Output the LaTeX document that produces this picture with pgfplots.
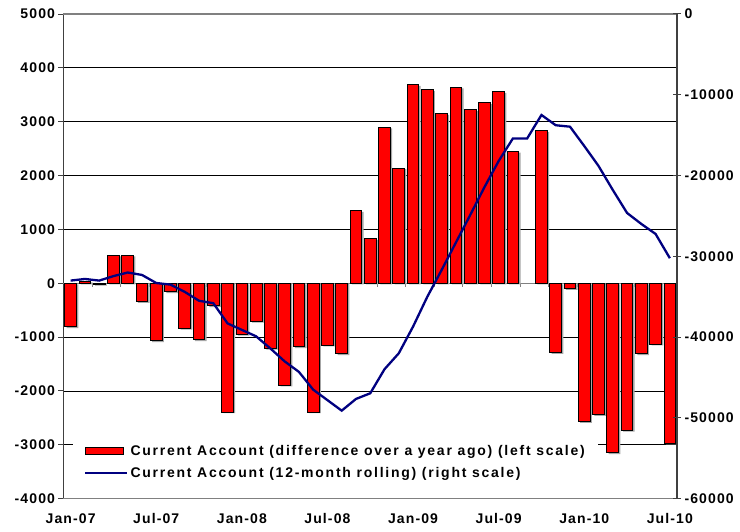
\documentclass[border=0pt]{standalone}
\usepackage{fontspec}
\setmainfont{Liberation Sans}
\newfontfamily\lblfont{Liberation Sans}[LetterSpace=8]
\newfontfamily\legfont{Liberation Sans}[LetterSpace=12.5]
\usepackage{pgfplots}
\usepackage{pgfplotstable}
\pgfplotsset{compat=1.18}
\definecolor{navyline}{RGB}{0,0,128}
\definecolor{barred}{RGB}{255,0,0}
\definecolor{axgray}{RGB}{128,128,128}
\newcommand\tickfont{\lblfont\bfseries\fontsize{14}{16}\selectfont}
\newcommand\legtext{\legfont\bfseries\fontsize{14}{16}\selectfont}

\pgfplotstableread{
m v
1 -810
2 40
3 -20
4 520
5 520
6 -340
7 -1070
8 -160
9 -840
10 -1050
11 -420
12 -2390
13 -950
14 -710
15 -1210
16 -1890
17 -1180
18 -2390
19 -1150
20 -1310
21 1350
22 830
23 2900
24 2140
25 3690
26 3590
27 3150
28 3640
29 3220
30 3350
31 3560
32 2450
34 2830
35 -1290
36 -100
37 -2570
38 -2440
39 -3150
40 -2730
41 -1310
42 -1130
43 -2970
}\bartable

\pgfplotstableread{
m v
1 -33000
2 -32800
3 -33000
4 -32450
5 -32000
6 -32300
7 -33300
8 -33500
9 -34400
10 -35500
11 -35800
12 -38300
13 -39100
14 -39900
15 -41400
16 -43000
17 -44300
18 -46500
19 -47800
20 -49100
21 -47650
22 -46950
23 -43970
24 -42000
25 -38700
26 -35000
27 -31700
28 -28300
29 -24900
30 -21450
31 -18200
32 -15400
33 -15400
34 -12500
35 -13770
36 -13950
37 -16340
38 -18810
39 -21780
40 -24630
41 -25990
42 -27230
43 -30230
}\linetable

\begin{document}
\begin{tikzpicture}
\begin{axis}[
  at={(0,0)}, anchor=south west,
  scale only axis, width=613.5pt, height=484.7pt,
  xmin=0.5, xmax=43.5, ymin=-4000, ymax=5000,
  axis x line*=bottom, axis y line*=left,
  x axis line style={axgray, line width=1.5pt, -},
  y axis line style={black!75, line width=1.2pt, -},
  xtick={1,7,13,19,25,31,37,43},
  xticklabels={Jan-07,Jul-07,Jan-08,Jul-08,Jan-09,Jul-09,Jan-10,Jul-10},
  x tick style={draw=none},
  xticklabel style={font=\tickfont, yshift=-6pt},
  ytick={-3000,-2000,-1000,0,1000,2000,3000,4000},
  yticklabels={-3000,-2000,-1000,0,1000,2000,3000,4000},
  extra y ticks={-4000,5000},
  extra y tick labels={-4000,5000},
  extra y tick style={grid style={axgray, line width=1.2pt}},
  ymajorgrids, grid style={black, line width=0.8pt},
  y tick style={black!75, line width=1pt},
  tick align=outside, major tick length=5pt,
  yticklabel style={font=\tickfont},
  ybar, bar width=0.82,
  clip=false,
]
\draw[axgray, line width=1.5pt] (axis cs:0.5,0) -- (axis cs:43.5,0);
\pgfplotsinvokeforeach{2.5,4.5,6.5,8.5,10.5,12.5,14.5,16.5,18.5,20.5,22.5,24.5,26.5,28.5,30.5,32.5,34.5,36.5,38.5,40.5,42.5}{
  \draw[axgray, line width=1pt] (axis cs:#1,0) -- ++(0pt,-4pt);
}
\addplot[fill=black!35, draw=none, forget plot, xshift=1.8pt, yshift=-1.2pt] table[x=m,y=v]{\bartable};
\addplot[fill=barred, draw=black, line width=0.9pt] table[x=m,y=v]{\bartable};
\end{axis}
\begin{axis}[
  at={(0,0)}, anchor=south west,
  scale only axis, width=613.5pt, height=484.7pt,
  xmin=0.5, xmax=43.5, ymin=-60000, ymax=0,
  hide x axis, xtick=\empty, axis y line*=right,
  y axis line style={black!75, line width=1.2pt, -},
  ytick={-60000,-50000,-40000,-30000,-20000,-10000,0},
  yticklabels={-60000,-50000,-40000,-30000,-20000,-10000,0},
  y tick style={black!75, line width=1pt},
  tick align=center, major tick length=8pt,
  yticklabel style={font=\tickfont},
  legend style={at={(axis description cs:0.0155,0.121)}, anchor=north west,
    draw=none, fill=white, font=\legtext, inner xsep=11pt, inner ysep=3pt,
    row sep=6pt, cells={anchor=west}},
  legend cell align=left,
]
\addlegendimage{legend image code/.code={\draw[fill=barred, draw=black, line width=0.8pt] (0pt,-3.5pt) rectangle (38pt,3.5pt);}}
\addlegendentry{Current Account (difference over a year ago) (left scale)}
\addplot[navyline, line width=2.3pt, legend image code/.code={\draw[navyline, line width=2.3pt] (0pt,0pt) -- (42pt,0pt);}] table[x=m,y=v]{\linetable};
\addlegendentry{Current Account (12-month rolling) (right scale)}
\end{axis}
\pgfresetboundingbox
\path[use as bounding box] (-63.5pt,-32.3pt) rectangle (676.5pt,498.7pt);
\end{tikzpicture}
\end{document}
